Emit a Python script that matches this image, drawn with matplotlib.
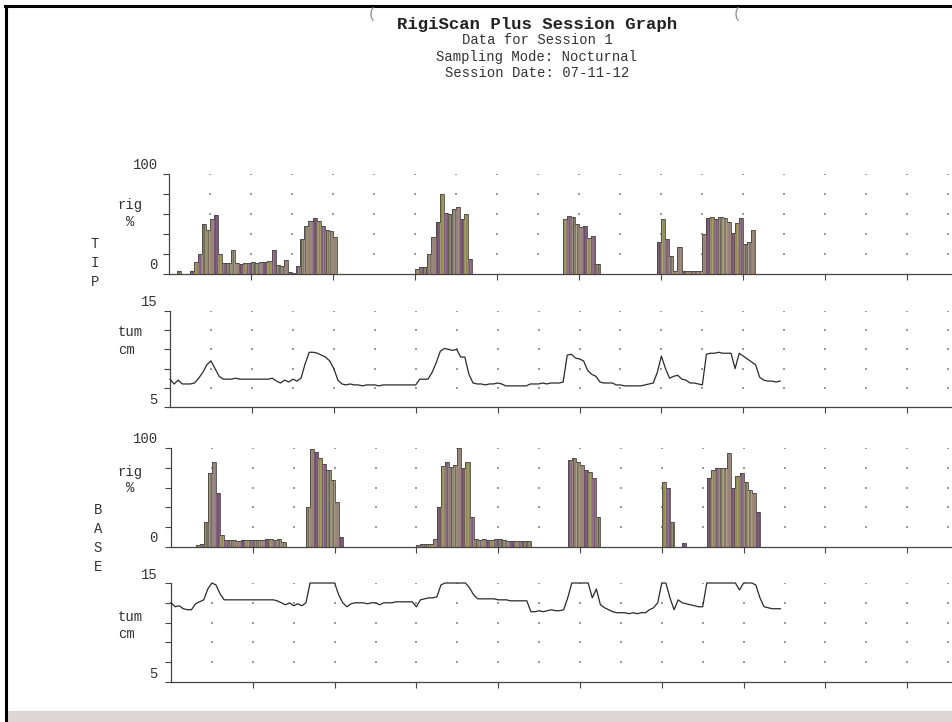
import numpy as np
import matplotlib
matplotlib.use('Agg')
import matplotlib.pyplot as plt
from matplotlib.lines import Line2D
from matplotlib.patches import Rectangle

# sampling step of the recorder (hours)
STEP = 0.05

# TIP rigidity, %  (one value per 0.05 h)
tip_rig = [
    0, 0, 3, 0, 0, 3, 12, 20, 50, 44,
    55, 59, 20, 11, 11, 24, 11, 10, 11, 11,
    12, 11, 12, 12, 13, 24, 9, 8, 14, 2,
    1, 8, 35, 48, 53, 56, 53, 48, 44, 43,
    37, 0, 0, 0, 0, 0, 0, 0, 0, 0,
    0, 0, 0, 0, 0, 0, 0, 0, 0, 0,
    5, 7, 7, 20, 37, 52, 80, 61, 60, 65,
    67, 55, 60, 15, 0, 0, 0, 0, 0, 0,
    0, 0, 0, 0, 0, 0, 0, 0, 0, 0,
    0, 0, 0, 0, 0, 0, 55, 58, 57, 50,
    47, 48, 36, 38, 10, 0, 0, 0, 0, 0,
    0, 0, 0, 0, 0, 0, 0, 0, 0, 32,
    55, 35, 18, 3, 27, 3, 3, 3, 3, 3,
    40, 56, 57, 55, 57, 56, 52, 41, 51, 56,
    30, 32, 44, 0, 0, 0, 0, 0, 0, 0,
]

# TIP tumescence, cm
tip_tum = [
    7.9, 7.4, 7.8, 7.4, 7.4, 7.4, 7.5, 8.0, 8.6, 9.4,
    9.8, 9.0, 8.2, 7.9, 7.9, 7.9, 8.0, 7.9, 7.9, 7.9,
    7.9, 7.9, 7.9, 7.9, 7.9, 8.0, 7.7, 7.5, 7.8, 7.6,
    7.9, 7.7, 8.0, 9.5, 10.7, 10.7, 10.6, 10.4, 10.2, 9.8,
    9.0, 7.8, 7.4, 7.3, 7.4, 7.3, 7.3, 7.2, 7.3, 7.3,
    7.3, 7.2, 7.3, 7.3, 7.3, 7.3, 7.3, 7.3, 7.3, 7.3,
    7.3, 7.9, 7.9, 7.9, 8.6, 9.6, 10.8, 11.1, 11.0, 10.9,
    11.0, 10.2, 10.2, 8.4, 7.5, 7.4, 7.4, 7.3, 7.4, 7.4,
    7.5, 7.4, 7.2, 7.2, 7.2, 7.2, 7.2, 7.2, 7.4, 7.4,
    7.4, 7.5, 7.4, 7.5, 7.5, 7.5, 7.6, 10.4, 10.5, 10.1,
    10.0, 9.8, 8.8, 8.4, 8.2, 7.6, 7.5, 7.5, 7.5, 7.3,
    7.3, 7.2, 7.2, 7.2, 7.2, 7.2, 7.3, 7.4, 7.5, 8.6,
    10.3, 9.0, 8.0, 8.2, 8.3, 7.9, 7.8, 7.5, 7.5, 7.4,
    7.3, 10.5, 10.6, 10.6, 10.7, 10.6, 10.6, 10.6, 9.0, 10.6,
    10.3, 10.0, 9.7, 9.4, 8.1, 7.8, 7.7, 7.7, 7.6, 7.7,
]

# BASE rigidity, %
base_rig = [
    0, 0, 0, 0, 0, 0, 2, 3, 25, 75,
    86, 55, 12, 7, 7, 7, 6, 7, 7, 7,
    7, 7, 7, 8, 8, 7, 8, 5, 0, 0,
    0, 0, 0, 40, 99, 96, 90, 84, 78, 68,
    45, 10, 0, 0, 0, 0, 0, 0, 0, 0,
    0, 0, 0, 0, 0, 0, 0, 0, 0, 0,
    2, 3, 3, 3, 8, 40, 82, 86, 81, 83,
    100, 80, 86, 30, 8, 7, 8, 7, 7, 8,
    8, 7, 6, 6, 6, 6, 6, 6, 0, 0,
    0, 0, 0, 0, 0, 0, 0, 88, 90, 86,
    83, 78, 76, 70, 30, 0, 0, 0, 0, 0,
    0, 0, 0, 0, 0, 0, 0, 0, 0, 0,
    66, 60, 25, 0, 0, 4, 0, 0, 0, 0,
    0, 70, 78, 80, 80, 80, 95, 60, 72, 75,
    66, 58, 55, 35, 0, 0, 0, 0, 0, 0,
]

# BASE tumescence, cm
base_tum = [
    13.0, 12.6, 12.7, 12.4, 12.3, 12.3, 12.9, 13.1, 13.3, 14.4,
    15.0, 14.8, 13.9, 13.3, 13.3, 13.3, 13.3, 13.3, 13.3, 13.3,
    13.3, 13.3, 13.3, 13.3, 13.3, 13.3, 13.2, 13.0, 12.8, 13.0,
    12.7, 12.9, 12.7, 13.0, 15.0, 15.0, 15.0, 15.0, 15.0, 15.0,
    15.0, 13.8, 13.0, 12.6, 12.9, 13.0, 13.0, 13.0, 12.9, 13.0,
    13.0, 12.8, 13.0, 13.0, 13.0, 13.1, 13.1, 13.1, 13.1, 13.1,
    12.6, 13.3, 13.4, 13.5, 13.5, 13.6, 14.8, 15.0, 15.0, 15.0,
    15.0, 15.0, 15.0, 14.5, 13.8, 13.4, 13.4, 13.4, 13.4, 13.4,
    13.3, 13.3, 13.3, 13.2, 13.2, 13.2, 13.2, 13.2, 12.1, 12.1,
    12.2, 12.1, 12.2, 12.3, 12.2, 12.2, 12.3, 13.5, 15.0, 15.0,
    15.0, 15.0, 15.0, 13.5, 14.4, 12.8, 12.5, 12.3, 12.1, 12.0,
    12.0, 12.0, 11.9, 12.0, 11.9, 12.0, 12.0, 12.3, 12.5, 13.0,
    15.0, 15.0, 13.5, 12.3, 13.3, 13.0, 12.9, 12.8, 12.7, 12.6,
    12.6, 15.0, 15.0, 15.0, 15.0, 15.0, 15.0, 15.0, 15.0, 14.3,
    15.0, 15.0, 15.0, 14.8, 13.5, 12.6, 12.5, 12.4, 12.4, 12.4,
]

title = 'RigiScan Plus Session Graph'
subtitle = ['Data for Session 1', 'Sampling Mode: Nocturnal', 'Session Date: 07-11-12']

hours = np.arange(len(tip_rig)) * STEP

plt.rcParams['font.family'] = ['Liberation Mono', 'DejaVu Sans']
plt.rcParams['hatch.linewidth'] = 0.9
INK = '#333333'
# scanner makes the filled areas a mix of olive and purple
mottle = ['#8a8858', '#7c5c78', '#9c9272', '#6f6a6c', '#a28c6c', '#84607e']
streak = ['#a9a06a', '#6a4e6a', '#8e7e8e', '#b0a47a', '#5e5a58', '#9a7a90']

W, H = 952, 722
fig = plt.figure(figsize=(W / 100, H / 100), dpi=100)
fig.patch.set_facecolor('white')


def ftext(x, y, s, **kw):
    kw.setdefault('color', INK)
    kw.setdefault('fontsize', 10)
    kw.setdefault('va', 'center')
    return fig.text(x / W, 1 - y / H, s, **kw)


def make_ax(left, top, bottom, right=989):
    return fig.add_axes([left / W, 1 - bottom / H, (right - left) / W, (bottom - top) / H])


def style(ax, lo, hi, ticks):
    ax.set_xlim(0, 10)
    ax.set_ylim(lo, hi)
    ax.set_facecolor('none')
    for s in ['top', 'right']:
        ax.spines[s].set_visible(False)
    for s in ['left', 'bottom']:
        ax.spines[s].set_color('#444444')
        ax.spines[s].set_linewidth(0.9)
    ax.set_xticks(np.arange(1, 11))
    ax.set_xticklabels([])
    ax.set_yticks(ticks)
    ax.set_yticklabels([])
    ax.tick_params(direction='out', length=4, width=0.8, color='#444444')
    gx, gy = np.meshgrid(np.arange(0.5, 10.01, 0.5), ticks[1:])
    ax.scatter(gx.ravel(), gy.ravel(), s=2.5, marker='s', color='#9a9a9a', lw=0, zorder=0)


def rig_panel(ax, vals):
    style(ax, 0, 100, [0, 20, 40, 60, 80, 100])
    cols = [mottle[i % len(mottle)] for i in range(len(vals))]
    bars = ax.bar(hours, vals, width=STEP, align='edge', color=cols, linewidth=0, zorder=2)
    for i, b in enumerate(bars):
        b.set_hatch('||||||')
        b.set_edgecolor(streak[(i * 5) % len(streak)])
    edges = np.append(hours, hours[-1] + STEP)
    ax.stairs(vals, edges, color='#4a4640', lw=0.6, zorder=3)


def tum_panel(ax, vals):
    style(ax, 5, 15, [5, 7, 9, 11, 13, 15])
    ax.plot(hours, vals, color='#2a2a2a', lw=0.9, zorder=3, clip_on=False)


ax1 = make_ax(169, 174, 274)
ax2 = make_ax(170, 311, 407)
ax3 = make_ax(171, 448, 547)
ax4 = make_ax(171, 583, 682)

rig_panel(ax1, tip_rig)
tum_panel(ax2, tip_tum)
rig_panel(ax3, base_rig)
tum_panel(ax4, base_tum)

# axis annotations
ftext(158, 165, '100', ha='right')
ftext(158, 265, '0', ha='right')
ftext(130, 205, 'rig', ha='center')
ftext(130, 222, '%', ha='center')
ftext(158, 302, '15', ha='right')
ftext(158, 400, '5', ha='right')
ftext(118, 332, 'tum', ha='left')
ftext(118, 350, 'cm', ha='left')

ftext(158, 439, '100', ha='right')
ftext(158, 538, '0', ha='right')
ftext(130, 472, 'rig', ha='center')
ftext(130, 488, '%', ha='center')
ftext(158, 575, '15', ha='right')
ftext(158, 674, '5', ha='right')
ftext(118, 617, 'tum', ha='left')
ftext(118, 634, 'cm', ha='left')

for i, ch in enumerate('TIP'):
    ftext(95, 244 + i * 19, ch, ha='center')
for i, ch in enumerate('BASE'):
    ftext(98, 510 + i * 19, ch, ha='center')

# header
ftext(537, 25, title, ha='center', fontsize=12.5, fontweight='bold', color='#222222')
for i, line in enumerate(subtitle):
    ftext(537, 40 + i * 16.5, line, ha='center', fontsize=10)
ftext(372, 14, '(', ha='center', fontsize=10, color='#888888')
ftext(737, 14, '(', ha='center', fontsize=10, color='#888888')

# page edge from the scan
fig.add_artist(Line2D([5 / W, 1], [1 - 6 / H, 1 - 6 / H], color='black', lw=2.2))
fig.add_artist(Line2D([5.5 / W, 5.5 / W], [0, 1 - 6 / H], color='black', lw=2.2))
fig.add_artist(Rectangle((6 / W, 0), 1, 11 / H, color='#dcd6d6', lw=0))

fig.savefig('out.png', dpi=100)
